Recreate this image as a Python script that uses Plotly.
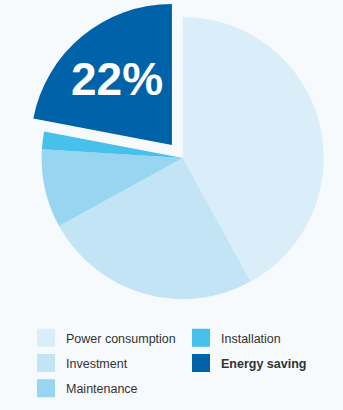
import plotly.graph_objects as go

labels = ["Power consumption", "Investment", "Maintenance", "Installation", "Energy saving"]
values = [42, 25, 9, 2, 22]
colors = ["#d9eef9", "#c3e4f5", "#97d5f1", "#47c0eb", "#0062a8"]
pulls = [0, 0, 0, 0, 0.12]
slice_text = ["", "", "", "", "<b>%{percent:.0%}</b>"]

legend1_items = ["Power consumption", "Investment", "Maintenance"]
legend2_items = ["Installation", "Energy saving"]

BG = "#f6fafd"
W, H = 343, 410

fig = go.Figure()
fig.add_trace(go.Pie(
    labels=labels, values=values, sort=False, direction="clockwise", rotation=0,
    pull=pulls, marker=dict(colors=colors, line=dict(width=0)),
    texttemplate=slice_text, textposition="inside", insidetextorientation="horizontal",
    insidetextfont=dict(color="white", size=46, family="Liberation Sans, Arial, Helvetica"),
    showlegend=False, hoverinfo="label+percent",
    domain=dict(x=[24.7 / W, 340.7 / W], y=[1 - 316 / H, 1]),
))

color_of = dict(zip(labels, colors))
for i, name in enumerate(legend1_items + legend2_items):
    disp = "<b>%s</b>" % name if name == "Energy saving" else name
    fig.add_trace(go.Scatter(
        x=[None], y=[None], mode="markers", name=disp,
        marker=dict(symbol="square", size=16, color=color_of[name],
                    line=dict(width=2, color=color_of[name])),
        legend="legend" if name in legend1_items else "legend2",
        legendgroup=name, showlegend=True,
    ))

legend_font = dict(family="Liberation Sans, Arial, Helvetica", size=12.5, color="#333333")
fig.update_layout(
    width=W, height=H, margin=dict(l=0, r=0, t=0, b=0),
    paper_bgcolor=BG, plot_bgcolor=BG,
    xaxis=dict(visible=False), yaxis=dict(visible=False),
    legend=dict(x=26 / W, y=1 - 323 / H, xanchor="left", yanchor="top",
                bgcolor="rgba(0,0,0,0)", font=legend_font, tracegroupgap=6),
    legend2=dict(x=181 / W, y=1 - 323 / H, xanchor="left", yanchor="top",
                 bgcolor="rgba(0,0,0,0)", font=legend_font, tracegroupgap=6),
)

fig.write_html("out.html")
